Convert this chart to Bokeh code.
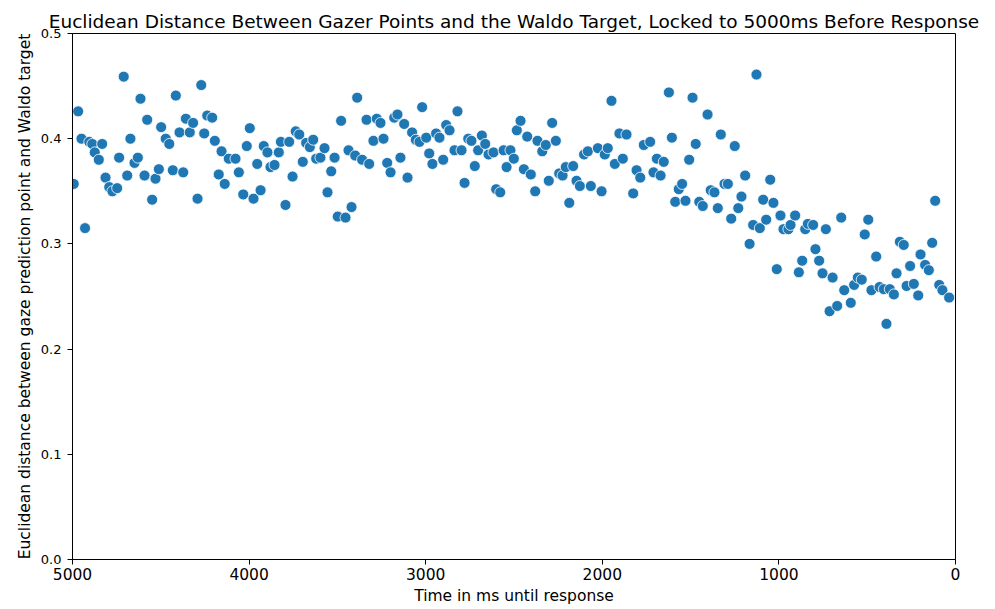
from bokeh.plotting import figure
from bokeh.models import Range1d, FixedTicker, PrintfTickFormatter, ColumnDataSource
from bokeh.embed import file_html
from bokeh.resources import INLINE

time_ms = [
    4993, 4968, 4949, 4929, 4905, 4888, 4874, 4851, 4832, 4813, 4792, 4774, 4747, 4736, 4710,
    4690, 4672, 4649, 4630, 4615, 4592, 4577, 4549, 4530, 4511, 4498, 4472, 4452, 4432, 4415,
    4394, 4373, 4358, 4336, 4317, 4292, 4271, 4254, 4237,
    4209, 4194, 4172, 4156, 4138, 4115, 4077, 4058, 4033, 4013, 3996, 3975, 3954, 3935, 3917,
    3896, 3879, 3856, 3832, 3820, 3794, 3773, 3754, 3736, 3716, 3696, 3677, 3656, 3637, 3620,
    3596, 3573, 3556, 3535, 3516, 3498, 3479, 3454, 3437, 3420, 3399, 3388,
    3360, 3335, 3320, 3296, 3277, 3256, 3239, 3218, 3199, 3178, 3160, 3143, 3122, 3103, 3077,
    3056, 3035, 3020, 2997, 2980, 2962, 2941, 2922, 2901, 2884, 2865, 2837, 2820, 2797, 2780,
    2759, 2741, 2722, 2703, 2682, 2663, 2644, 2616, 2601, 2578, 2559, 2542,
    2520, 2501, 2484, 2463, 2444, 2425, 2405, 2380, 2367, 2340, 2320, 2303, 2284, 2263, 2244,
    2225, 2207, 2187, 2165, 2146, 2127, 2103, 2082, 2065, 2025, 2004, 1986, 1969, 1948, 1929,
    1903, 1884, 1863, 1825, 1806, 1785, 1765, 1729, 1710, 1691,
    1670, 1652, 1623, 1606, 1587, 1567, 1548, 1529, 1508, 1489, 1471, 1451, 1431, 1404, 1386,
    1365, 1346, 1329, 1308, 1289, 1270, 1250, 1230, 1212, 1191, 1166, 1146, 1127, 1108, 1089,
    1072, 1049, 1031, 1012, 991, 974, 946, 934, 908, 887, 868, 851, 836,
    806, 793, 772, 753, 734, 713, 696, 670, 647, 630, 593, 574, 553, 531, 514,
    494, 476, 449, 430, 406, 391, 372, 349, 334, 315, 293, 277, 257, 236, 211,
    198, 172, 151, 132, 115, 92, 74, 36,
]

distance = [
    0.357, 0.426, 0.400, 0.315, 0.397, 0.395, 0.387, 0.380, 0.395, 0.363, 0.354, 0.350, 0.353, 0.382, 0.459,
    0.365, 0.400, 0.377, 0.382, 0.438, 0.365, 0.418, 0.342, 0.362, 0.371, 0.411, 0.400, 0.395, 0.370, 0.441,
    0.406, 0.368, 0.419, 0.406, 0.415, 0.343, 0.451, 0.405, 0.422,
    0.420, 0.398, 0.366, 0.388, 0.357, 0.381, 0.381, 0.368, 0.347, 0.393, 0.410, 0.343, 0.376, 0.351, 0.393,
    0.387, 0.373, 0.375, 0.387, 0.397, 0.337, 0.397, 0.364, 0.407, 0.404, 0.378, 0.396, 0.392, 0.399, 0.381,
    0.382, 0.391, 0.349, 0.369, 0.382, 0.326, 0.417, 0.325, 0.389, 0.335, 0.384, 0.439,
    0.380, 0.418, 0.376, 0.398, 0.419, 0.415, 0.400, 0.377, 0.368, 0.420, 0.423, 0.382, 0.414, 0.363, 0.406,
    0.399, 0.397, 0.430, 0.401, 0.386, 0.376, 0.405, 0.401, 0.380, 0.413, 0.408, 0.389, 0.426, 0.389, 0.358,
    0.400, 0.398, 0.374, 0.389, 0.403, 0.395, 0.385, 0.387, 0.352, 0.349, 0.389, 0.373,
    0.389, 0.381, 0.408, 0.417, 0.371, 0.402, 0.366, 0.350, 0.398, 0.388, 0.394, 0.360, 0.415, 0.398, 0.367,
    0.365, 0.373, 0.339, 0.374, 0.360, 0.355, 0.385, 0.388, 0.355, 0.391, 0.350, 0.385, 0.391, 0.436, 0.376,
    0.405, 0.381, 0.404, 0.348, 0.370, 0.363, 0.394, 0.397, 0.368, 0.381,
    0.365, 0.378, 0.444, 0.401, 0.340, 0.352, 0.357, 0.341, 0.380, 0.439, 0.395, 0.340, 0.336, 0.423, 0.351,
    0.349, 0.334, 0.404, 0.357, 0.357, 0.324, 0.393, 0.334, 0.345, 0.365, 0.300, 0.318, 0.461, 0.315, 0.342,
    0.323, 0.361, 0.339, 0.276, 0.327, 0.314, 0.314, 0.318, 0.327, 0.273, 0.284, 0.314, 0.319,
    0.318, 0.295, 0.284, 0.272, 0.314, 0.236, 0.268, 0.241, 0.325, 0.256, 0.244, 0.261, 0.268, 0.266, 0.309,
    0.323, 0.256, 0.288, 0.259, 0.257, 0.224, 0.257, 0.252, 0.272, 0.302, 0.299, 0.260, 0.279, 0.262, 0.251,
    0.290, 0.280, 0.275, 0.301, 0.341, 0.261, 0.256, 0.249,
]

title_text = "Euclidean Distance Between Gazer Points and the Waldo Target, Locked to 5000ms Before Response"
x_label = "Time in ms until response"
y_label = "Euclidean distance between gaze prediction point and Waldo target"
x_ticks = [5000, 4000, 3000, 2000, 1000, 0]
y_ticks = [0.0, 0.1, 0.2, 0.3, 0.4, 0.5]

FONT = "DejaVu Sans"

src = ColumnDataSource(dict(t=time_ms, d=distance))

p = figure(width=987, height=607, output_backend="svg", toolbar_location=None,
           x_range=Range1d(5000, 0), y_range=Range1d(0, 0.5),
           min_border_left=72, min_border_right=32, min_border_top=33, min_border_bottom=47,
           title=title_text)

p.scatter("t", "d", source=src, size=11, fill_color="#1f77b4", line_color="white",
          line_width=0.8)

p.title.text_font = FONT
p.title.text_font_size = "18.5px"
p.title.text_font_style = "normal"
p.title.align = "center"
p.title.text_color = "black"
p.title.standoff = 3

p.xgrid.visible = False
p.ygrid.visible = False
p.outline_line_color = "black"
p.outline_line_width = 1
p.outline_line_alpha = 1

p.xaxis.ticker = FixedTicker(ticks=x_ticks)
p.yaxis.ticker = FixedTicker(ticks=y_ticks)
p.xaxis.formatter = PrintfTickFormatter(format="%d")
p.yaxis.formatter = PrintfTickFormatter(format="%.1f")
p.xaxis.axis_label = x_label
p.yaxis.axis_label = y_label

for ax in (p.xaxis, p.yaxis):
    ax.axis_label_text_font = FONT
    ax.axis_label_text_font_size = "15.5px"
    ax.axis_label_text_font_style = "normal"
    ax.axis_label_text_color = "black"
    ax.major_label_text_font = FONT
    ax.major_label_text_color = "black"
    ax.minor_tick_line_color = None
    ax.major_tick_in = 0
    ax.major_tick_out = 5
    ax.major_tick_line_color = "black"
    ax.axis_line_color = "black"
    ax.axis_label_standoff = 4

p.xaxis.major_label_text_font_size = "15.5px"
p.xaxis.major_label_standoff = 3
p.yaxis.major_label_text_font_size = "13px"
p.yaxis.major_label_standoff = 6

open("out.html", "w").write(file_html(p, INLINE))
